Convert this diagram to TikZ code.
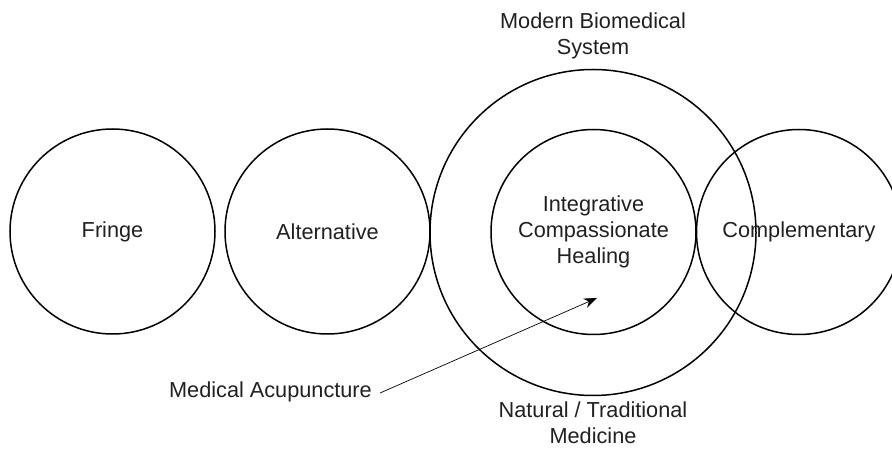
\documentclass[tikz,border=0pt]{standalone}
\usepackage{fontspec}
\setmainfont{Liberation Sans}
\usetikzlibrary{arrows.meta}
\definecolor{inkgray}{HTML}{231F20}
\begin{document}
\begin{tikzpicture}[x=1pt,y=1pt,
  font=\fontsize{21.7}{26}\selectfont,
  ring/.style={circle, draw=black, line width=1.5pt, inner sep=0pt, text=inkgray},
  label text/.style={text=inkgray, align=center, inner sep=0pt},
  pointer/.style={draw=black, line width=0.7pt, -{Stealth[length=13pt,width=10pt]}}]
  \useasboundingbox (0,0) rectangle (892,450);

  % outer system circle and its labels
  \node[ring, minimum size=326pt] (system) at (593,217.5) {};
  \node[label text] (modern) at (593,414) {Modern Biomedical\\System};
  \node[label text] (natural) at (593,27) {Natural / Traditional\\Medicine};

  % row of practice circles
  \node[ring, minimum size=205pt] (fringe) at (112.5,218.5) {Fringe};
  \node[ring, minimum size=205pt] (alternative) at (327.5,218.5) {Alternative};
  \node[ring, minimum size=205pt, align=center] (integrative) at (593.5,218) {Integrative\\Compassionate\\Healing};
  \node[ring, minimum size=205pt] (complementary) at (799,218) {Complementary};

  % pointer into the integrative circle
  \node[label text, anchor=east] (acu) at (372,58) {Medical Acupuncture};
  \coordinate (tip) at (597,152);
  \draw[pointer] ([xshift=8pt,yshift=-1pt]acu.east) -- (tip);
\end{tikzpicture}
\end{document}
